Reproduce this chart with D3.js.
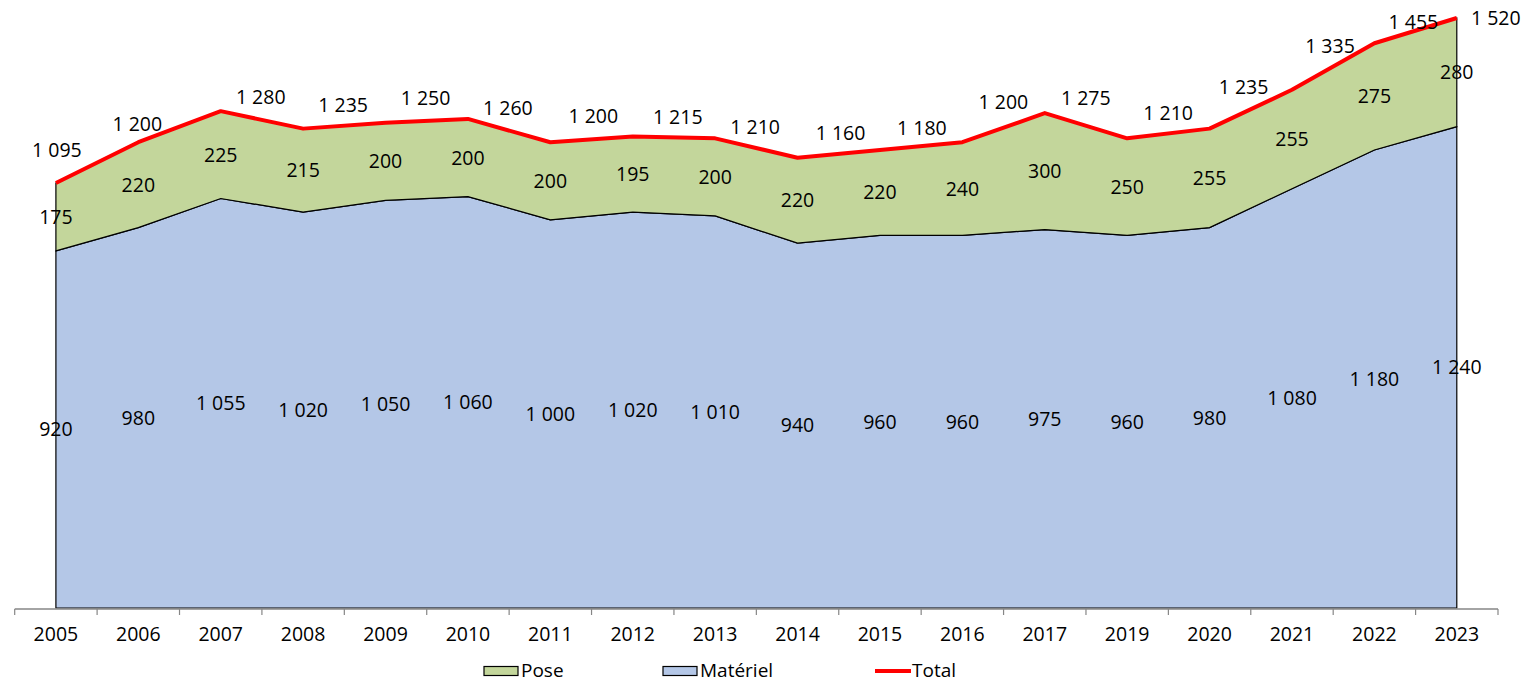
<!DOCTYPE html>
<html>
<head>
<meta charset="utf-8">
<script src="https://cdn.jsdelivr.net/npm/d3@7"></script>
<style>
    body { margin: 0; background: #fff; }
    svg text { font-family: "Open Sans", sans-serif; fill: #000; }
</style>
</head>
<body>
<div class="chart"></div>
<script>
"use strict";

const years = ["2005", "2006", "2007", "2008", "2009", "2010", "2011", "2012", "2013",
    "2014", "2015", "2016", "2017", "2019", "2020", "2021", "2022", "2023"];
const materiel = [920, 980, 1055, 1020, 1050, 1060, 1000, 1020, 1010, 940, 960, 960, 975, 960, 980, 1080, 1180, 1240];
const pose = [175, 220, 225, 215, 200, 200, 200, 195, 200, 220, 220, 240, 300, 250, 255, 255, 275, 280];
const total = [1095, 1200, 1280, 1235, 1250, 1260, 1200, 1215, 1210, 1160, 1180, 1200, 1275, 1210, 1235, 1335, 1455, 1520];

// nudges of the "Total" labels, as placed in the original
const totalDx = [1, -1, 40, 40, 40, 40, 43, 45, 40, 43, 42, 41, 41, 41, 34, 38, 39, 39];
const totalDy = [-33, -18, -14, -23, -25, -11, -26, -19, -11, -25, -22, -40, -15, -25, -41, -44, -21, 0];

window.onload = () => main();

function fmt(v) {
    return d3.format(",")(v).replace(/,/g, " ");
}

function main() {
    const config = { width: 1526, height: 683, left: 14.7, right: 1498, top: 18, bottom: 608 };

    const svg = d3.select(".chart")
        .append("svg")
        .attr("width", config.width)
        .attr("height", config.height);

    const x = d3.scaleBand()
        .domain(years)
        .range([config.left, config.right])
        .padding(0);
    const cx = (d) => x(d) + x.bandwidth() / 2;

    const y = d3.scaleLinear()
        .domain([0, 1520])
        .range([config.bottom, config.top]);

    const rows = years.map((yr, i) => ({ year: yr, materiel: materiel[i], pose: pose[i], total: total[i] }));

    const areaMat = d3.area()
        .x((d) => cx(d.year))
        .y0(y(0))
        .y1((d) => y(d.materiel));
    const areaPose = d3.area()
        .x((d) => cx(d.year))
        .y0((d) => y(d.materiel))
        .y1((d) => y(d.materiel + d.pose));

    svg.append("path")
        .datum(rows)
        .attr("d", areaMat)
        .attr("fill", "#b4c7e7")
        .attr("stroke", "#000")
        .attr("stroke-width", 1.2);
    svg.append("path")
        .datum(rows)
        .attr("d", areaPose)
        .attr("fill", "#c3d69b")
        .attr("stroke", "#000")
        .attr("stroke-width", 1.2);

    // x axis
    const axisY = config.bottom + 1;
    svg.append("line")
        .attr("x1", config.left).attr("x2", config.right)
        .attr("y1", axisY).attr("y2", axisY)
        .attr("stroke", "#868686").attr("stroke-width", 1.5);
    const bounds = years.map((d) => x(d)).concat([config.right]);
    svg.selectAll(".tick")
        .data(bounds)
        .enter()
        .append("line")
        .attr("x1", (d) => d).attr("x2", (d) => d)
        .attr("y1", axisY).attr("y2", axisY + 6)
        .attr("stroke", "#868686").attr("stroke-width", 1.2);
    svg.selectAll(".year-label")
        .data(years)
        .enter()
        .append("text")
        .attr("x", (d) => cx(d))
        .attr("y", 634)
        .attr("dy", "0.35em")
        .attr("text-anchor", "middle")
        .attr("font-size", 19.5)
        .text((d) => d);

    // total line
    const line = d3.line()
        .x((d) => cx(d.year))
        .y((d) => y(d.total));
    svg.append("path")
        .datum(rows)
        .attr("d", line)
        .attr("fill", "none")
        .attr("stroke", "#ff0000")
        .attr("stroke-width", 4)
        .attr("stroke-linejoin", "round");

    // data labels
    svg.selectAll(".mat-label")
        .data(rows)
        .enter()
        .append("text")
        .attr("x", (d) => cx(d.year))
        .attr("y", (d) => y(d.materiel / 2))
        .attr("dy", "0.35em")
        .attr("text-anchor", "middle")
        .attr("font-size", 19.5)
        .text((d) => fmt(d.materiel));
    svg.selectAll(".pose-label")
        .data(rows)
        .enter()
        .append("text")
        .attr("x", (d) => cx(d.year))
        .attr("y", (d) => y(d.materiel + d.pose / 2))
        .attr("dy", "0.35em")
        .attr("text-anchor", "middle")
        .attr("font-size", 19.5)
        .text((d) => fmt(d.pose));
    svg.selectAll(".total-label")
        .data(rows)
        .enter()
        .append("text")
        .attr("x", (d, i) => cx(d.year) + totalDx[i])
        .attr("y", (d, i) => y(d.total) + totalDy[i])
        .attr("dy", "0.35em")
        .attr("text-anchor", "middle")
        .attr("font-size", 19.5)
        .text((d) => fmt(d.total));

    // legend
    const legend = svg.append("g").attr("transform", "translate(0,671)");
    const items = [
        { name: "Pose", type: "area", color: "#c3d69b", x: 484 },
        { name: "Matériel", type: "area", color: "#b4c7e7", x: 663 },
        { name: "Total", type: "line", color: "#ff0000", x: 875 }
    ];
    legend.selectAll("g")
        .data(items)
        .enter()
        .append("g").each(function(d) {
            const g = d3.select(this);
            if (d.type === "area") {
                g.append("rect")
                    .attr("x", d.x).attr("y", -4.5)
                    .attr("width", 34).attr("height", 9)
                    .attr("fill", d.color)
                    .attr("stroke", "#000").attr("stroke-width", 1.2);
            } else {
                g.append("line")
                    .attr("x1", d.x).attr("x2", d.x + 36)
                    .attr("y1", 0).attr("y2", 0)
                    .attr("stroke", d.color).attr("stroke-width", 4);
            }
            g.append("text")
                .attr("x", d.x + 37)
                .attr("y", 5.5)
                .attr("font-size", 19)
                .text(d.name);
        });
}
</script>
</body>
</html>
